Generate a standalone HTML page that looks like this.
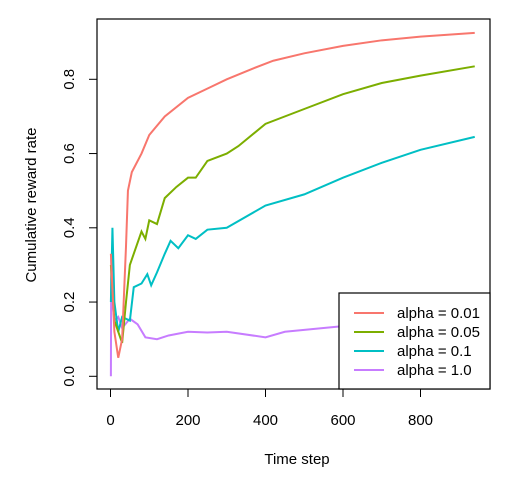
<!DOCTYPE html>
<html><head><meta charset="utf-8"><style>
body{margin:0;background:#fff;font-family:"Liberation Sans",Arial,sans-serif}
svg text{font-family:"Liberation Sans",Arial,sans-serif;font-size:15px;fill:#000}
</style></head><body>
<svg id="chart" width="510" height="486">
<rect x="97" y="19" width="393" height="370" fill="none" stroke="#000" stroke-width="1.2"/>
<g id="axes"></g><g id="lines"></g>
<text x="297" y="464" text-anchor="middle">Time step</text>
<text transform="translate(36,205) rotate(-90)" text-anchor="middle">Cumulative reward rate</text>
<g>
<rect x="339" y="293" width="151" height="96" fill="#fff" stroke="#000" stroke-width="1.2"/>
<g id="legend-items"></g></g>
</svg>
<script>
const xTicks=[0,200,400,600,800];
const yTicks=[0.0,0.2,0.4,0.6,0.8];
const yTickLabels=["0.0","0.2","0.4","0.6","0.8"];
const seriesNames=["alpha = 0.01","alpha = 0.05","alpha = 0.1","alpha = 1.0"];
const seriesColors=["#F8766D","#7CAE00","#00BFC4","#C77CFF"];
const stepsA=[1,10,20,30,40,45,55,80,100,140,200,260,300,370,420,500,600,700,800,940];
const valsA=[0.33,0.12,0.05,0.1,0.35,0.5,0.55,0.6,0.65,0.7,0.75,0.78,0.8,0.83,0.85,0.87,0.89,0.905,0.915,0.925];
const stepsB=[1,10,20,30,40,50,60,80,90,100,120,140,170,200,220,250,300,330,400,500,600,700,800,940];
const valsB=[0.3,0.15,0.12,0.09,0.2,0.3,0.33,0.39,0.37,0.42,0.41,0.48,0.51,0.535,0.535,0.58,0.6,0.62,0.68,0.72,0.76,0.79,0.81,0.835];
const stepsC=[1,5,10,20,30,50,60,80,95,105,120,140,155,175,200,220,250,300,400,500,600,700,800,940];
const valsC=[0.2,0.4,0.2,0.12,0.16,0.15,0.24,0.25,0.275,0.245,0.28,0.33,0.365,0.345,0.38,0.37,0.395,0.4,0.46,0.49,0.535,0.575,0.61,0.645];
const stepsD=[1,2,5,10,20,30,50,70,90,120,150,200,250,300,400,450,500,550,600,700,800,940];
const valsD=[0.0,0.33,0.2,0.15,0.16,0.13,0.155,0.14,0.105,0.1,0.11,0.12,0.118,0.12,0.105,0.12,0.125,0.13,0.135,0.14,0.145,0.15];
const X=v=>110.5+v*0.3875, Y=v=>376.3-v*371.25;
const ns="http://www.w3.org/2000/svg";
const axes=document.getElementById('axes'),lines=document.getElementById('lines'),leg=document.getElementById('legend-items');
function mk(t,a,p){const e=document.createElementNS(ns,t);for(const k in a)e.setAttribute(k,a[k]);p.appendChild(e);return e;}
xTicks.forEach(v=>{
 const l=mk('line',{x1:X(v),x2:X(v),y1:389,y2:397,stroke:'#000'},axes);
 
 
 const t=mk('text',{x:X(v),y:425,'text-anchor':'middle'},axes);t.textContent=v;
 
 
});
yTicks.forEach((v,i)=>{
 const l=mk('line',{x1:89,x2:97,y1:Y(v),y2:Y(v),stroke:'#000'},axes);
 
 
 const t=mk('text',{transform:`translate(74,${Y(v)}) rotate(-90)`,'text-anchor':'middle'},axes);t.textContent=yTickLabels[i];
 
 
});
const S=[[stepsA,valsA],[stepsB,valsB],[stepsC,valsC],[stepsD,valsD]];
[3,2,1,0].forEach(i=>{
 const [s,v]=S[i];
 const p=mk('polyline',{points:s.map((x,j)=>X(x)+','+Y(v[j])).join(' '),fill:'none',stroke:seriesColors[i],'stroke-width':2},lines);
 
 
});
seriesNames.forEach((n,i)=>{
 const y=313+i*19;
 const l=mk('line',{x1:354,x2:384,y1:y,y2:y,stroke:seriesColors[i],'stroke-width':2},leg);
 
 
 const t=mk('text',{x:397,y:y+5},leg);t.textContent=n;
 
 
});
</script>
</body></html>
